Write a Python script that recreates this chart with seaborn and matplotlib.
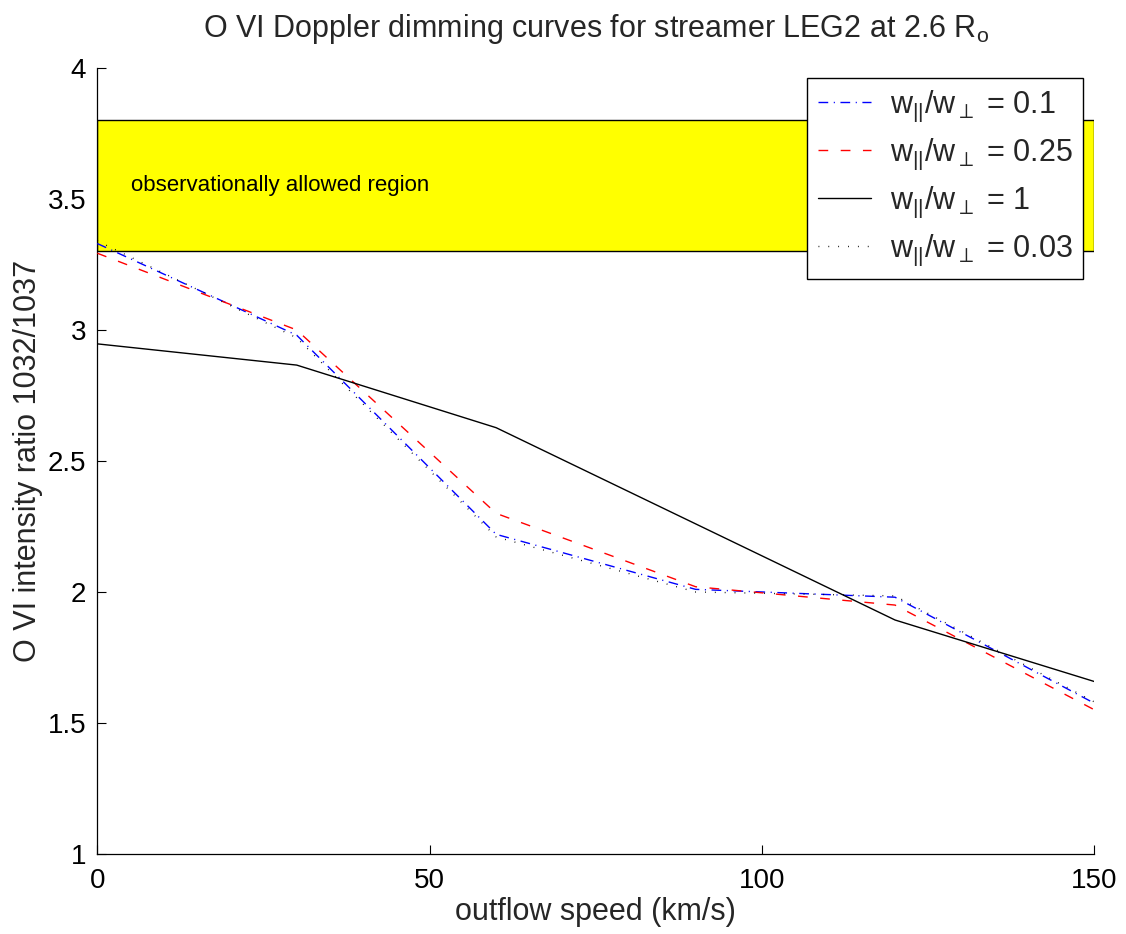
import matplotlib
matplotlib.use("Agg")
import matplotlib.pyplot as plt
import seaborn as sns
import pandas as pd

# ---- data ----
speed = [0, 30, 60, 90, 120, 150]
ratio_01 = [3.33, 2.98, 2.22, 2.01, 1.98, 1.575]
ratio_025 = [3.293, 3.00, 2.30, 2.02, 1.95, 1.55]
ratio_1 = [2.947, 2.866, 2.627, 2.26, 1.893, 1.658]
ratio_003 = [3.34, 2.97, 2.21, 2.00, 1.985, 1.58]
labels = [r"w$_{||}$/w$_{\perp}$ = 0.1", r"w$_{||}$/w$_{\perp}$ = 0.25",
          r"w$_{||}$/w$_{\perp}$ = 1", r"w$_{||}$/w$_{\perp}$ = 0.03"]
band_low, band_high = 3.3, 3.8
band_text = "observationally allowed region"
title = r"O VI Doppler dimming curves for streamer LEG2 at 2.6 R$_{\mathrm{o}}$"
xlabel = "outflow speed (km/s)"
ylabel = "O VI intensity ratio 1032/1037"
xticks = [0, 50, 100, 150]
yticks = [1, 1.5, 2, 2.5, 3, 3.5, 4]

sns.set_theme(style="ticks")
plt.rcParams["font.family"] = ["Liberation Sans", "DejaVu Sans"]
plt.rcParams["mathtext.fontset"] = "custom"
plt.rcParams["mathtext.rm"] = "Liberation Sans"
plt.rcParams["mathtext.it"] = "Liberation Sans"
plt.rcParams["mathtext.sf"] = "Liberation Sans"

fig = plt.figure(figsize=(11.26, 9.34), dpi=100)
ax = fig.add_axes([0.0864, 0.0857, 0.8856, 0.8415])

ax.axhspan(band_low, band_high, facecolor="#ffff00", edgecolor="black", lw=1.0, zorder=1)
ax.text(5, 3.55, band_text, fontsize=16, va="center", ha="left", color="black", zorder=2)

series = [
    (ratio_01, "blue", (7, 4, 0.8, 4)),
    (ratio_025, "red", (7, 9)),
    (ratio_1, "black", None),
    (ratio_003, "black", (0.6, 6.5)),
]
for (vals, col, dash), lab in zip(series, labels):
    df = pd.DataFrame({"speed": speed, "ratio": vals})
    sns.lineplot(data=df, x="speed", y="ratio", ax=ax, color=col, lw=1.0,
                 label=lab, zorder=3)
    line = ax.lines[-1]
    if dash is not None:
        line.set_dashes(dash)
    else:
        line.set_linestyle("-")

ax.set_xlim(0, 150)
ax.set_ylim(1, 4)
ax.set_xticks(xticks)
ax.set_yticks(yticks)
ax.set_yticklabels(["1", "1.5", "2", "2.5", "3", "3.5", "4"])
ax.tick_params(direction="in", length=6.5, width=0.8, labelsize=20, colors="black")
ax.tick_params(axis="x", pad=10)
ax.tick_params(axis="y", pad=8)
for s in ["top", "right"]:
    ax.spines[s].set_visible(False)
for s in ["left", "bottom"]:
    ax.spines[s].set_color("black")
    ax.spines[s].set_linewidth(0.9)

ax.set_xlabel(xlabel, fontsize=22, labelpad=2)
ax.set_ylabel(ylabel, fontsize=22, labelpad=3)
ax.set_title(title, fontsize=22, pad=22)

leg = ax.legend(loc="upper right", bbox_to_anchor=(0.9886, 0.987), fontsize=22,
                frameon=True, fancybox=False, edgecolor="black", framealpha=1,
                handlelength=1.75, labelspacing=0.42, borderpad=0.35, handletextpad=0.6,
                borderaxespad=0)
leg.get_frame().set_linewidth(1.0)
leg.set_zorder(5)

fig.savefig("out.png", dpi=100)
